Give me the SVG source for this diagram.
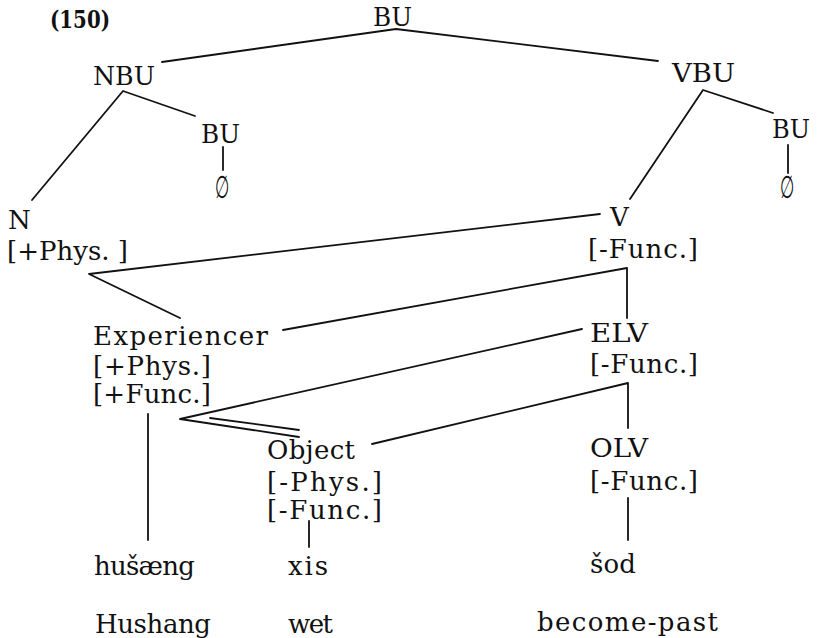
<svg xmlns="http://www.w3.org/2000/svg" width="819" height="638" viewBox="0 0 819 638">
<style>
text{font-family:"DejaVu Serif","Liberation Serif",serif;font-size:26px;fill:#111}
.b{font-weight:bold;font-size:25px}
.e{font-family:"DejaVu Sans",sans-serif;font-size:30px}
line,polyline{stroke:#111;stroke-width:1.8;fill:none;stroke-linecap:round;stroke-linejoin:round}
</style>
<rect width="819" height="638" fill="#fff"/>
<g id="connectors">
<polyline points="162,62 396,29 658,61"/>
<polyline points="195,116 123,91 32,200"/>
<line x1="223" y1="147" x2="223" y2="170"/>
<polyline points="773,113 703,90 630,199"/>
<line x1="788" y1="145" x2="788" y2="173"/>
<polyline points="600,214 89,274 180,318"/>
<polyline points="283,330 627,268 627,318"/>
<polyline points="582,329 180,419 299,437"/>
<line x1="210" y1="418" x2="299" y2="430"/>
<line x1="148" y1="414" x2="148" y2="540"/>
<polyline points="372,444 628,383 628,428"/>
<line x1="628" y1="498" x2="628" y2="540"/>
<line x1="309" y1="521" x2="309" y2="547"/>
</g>
<g id="label"><text class="b" x="50" y="28" textLength="60" lengthAdjust="spacingAndGlyphs">(150)</text></g>
<g id="BU"><text x="373" y="26" textLength="39" lengthAdjust="spacingAndGlyphs">BU</text></g>
<g id="NBU"><text x="93" y="85" textLength="62" lengthAdjust="spacingAndGlyphs">NBU</text></g>
<g id="BU1"><text x="201" y="143" textLength="39" lengthAdjust="spacingAndGlyphs">BU</text><text class="e" transform="translate(215,198) scale(0.55,1.05)">∅</text></g>
<g id="VBU"><text x="672" y="82" textLength="63" lengthAdjust="spacingAndGlyphs">VBU</text></g>
<g id="BU2"><text x="772" y="138" textLength="38" lengthAdjust="spacingAndGlyphs">BU</text><text class="e" transform="translate(780,198) scale(0.55,1.05)">∅</text></g>
<g id="N"><text x="8" y="229">N</text><text x="7" y="260" textLength="121">[+Phys. ]</text></g>
<g id="V"><text x="610" y="226">V</text><text x="588" y="258" textLength="110">[-Func.]</text></g>
<g id="Experiencer"><text x="93" y="345" textLength="175">Experiencer</text><text x="93" y="375" textLength="118">[+Phys.]</text><text x="93" y="403" textLength="118">[+Func.]</text></g>
<g id="ELV"><text x="590" y="342" textLength="58" lengthAdjust="spacingAndGlyphs">ELV</text><text x="590" y="373" textLength="108">[-Func.]</text></g>
<g id="Object"><text x="267" y="459" textLength="88">Object</text><text x="267" y="491" textLength="115">[-Phys.]</text><text x="267" y="519" textLength="115">[-Func.]</text></g>
<g id="OLV"><text x="590" y="457" textLength="58" lengthAdjust="spacingAndGlyphs">OLV</text><text x="590" y="490" textLength="108">[-Func.]</text></g>
<g id="husaeng"><text x="94" y="575" textLength="101">hušæng</text><text x="95" y="633" textLength="116">Hushang</text></g>
<g id="xis"><text x="288" y="575" textLength="40">xis</text><text x="288" y="633" textLength="45">wet</text></g>
<g id="sod"><text x="590" y="573" textLength="46">šod</text><text x="537" y="631" textLength="181">become-past</text></g>
</svg>
